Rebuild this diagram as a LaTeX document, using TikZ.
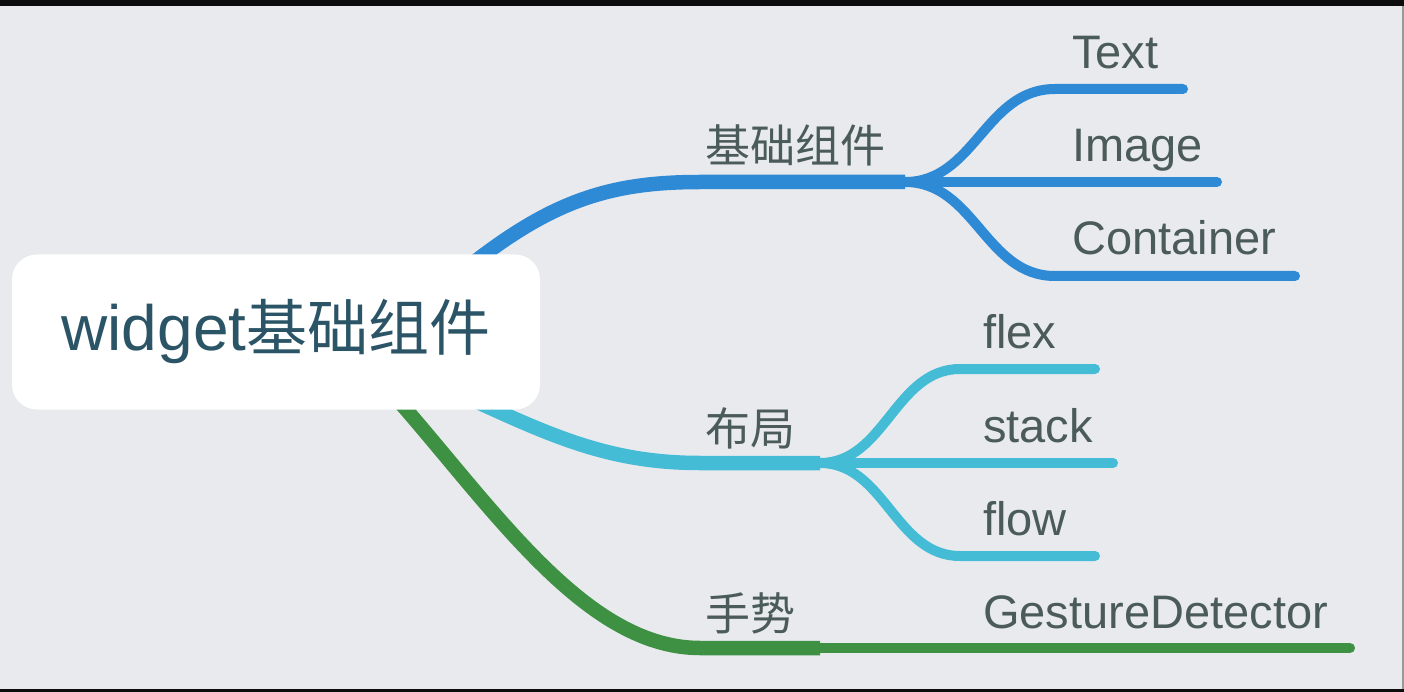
\documentclass[tikz,border=0pt]{standalone}
\usepackage{fontspec}
\setmainfont{Liberation Sans}
\newfontfamily\cjk{Noto Sans CJK SC}
\pgfdeclarelayer{back}
\pgfdeclarelayer{bg}
\pgfsetlayers{back,bg,main}
\definecolor{bgc}{HTML}{E8EAEE}
\definecolor{blueb}{HTML}{2F8AD6}
\definecolor{cyanb}{HTML}{45BCD5}
\definecolor{greenb}{HTML}{3E9142}
\definecolor{txt}{HTML}{4B5A5A}
\definecolor{roottxt}{HTML}{2B5566}
\tikzset{
  rootbox/.style={fill=white, rounded corners=25pt, minimum width=528pt, minimum height=155pt, inner sep=0pt, text=roottxt},
  mainline/.style={line width=14.5pt},
  subline/.style={line width=10pt, line cap=round},
  leaflabel/.style={anchor=base west, inner sep=0pt, text=txt, font=\fontsize{47}{50}\selectfont},
  cnlabel/.style={inner sep=0pt, text=txt, font=\cjk\fontsize{45}{50}\selectfont},
}
\begin{document}
\begin{tikzpicture}[x=1pt,y=-1pt]
\useasboundingbox (0,0) rectangle (1404,692);
\begin{pgfonlayer}{back}
\fill[bgc] (0,0) rectangle (1404,692);
\fill[black!95] (0,0) rectangle (1404,6);
\fill[black!95] (0,689) rectangle (1404,692);
\fill[black!40] (1402,6) rectangle (1404,689);
\end{pgfonlayer}

\node[rootbox] (root) at (276,332) {\fontsize{64}{66}\selectfont widget{\cjk\fontsize{61}{66}\selectfont 基础组件}};

% coordinates
\coordinate (bs) at (440,290);
\coordinate (bj) at (905,182);
\coordinate (cs) at (440,385);
\coordinate (cj) at (820,463);
\coordinate (gs) at (380,380);
\coordinate (gj) at (820,648);
\coordinate (tEnd) at (1183,89);
\coordinate (iEnd) at (1217,182);
\coordinate (coEnd) at (1295,276);
\coordinate (flEnd) at (1095,369);
\coordinate (stEnd) at (1113,463);
\coordinate (fwEnd) at (1095,556);
\coordinate (gdEnd) at (1350,648);

\begin{pgfonlayer}{bg}
% blue
\draw[blueb, mainline] (bs) .. controls (540,205) and (600,182) .. (700,182) -- (bj);
\draw[blueb, subline] (bj) .. controls (975,182) and (985,89) .. (1055,89) -- (tEnd);
\draw[blueb, subline] (bj) -- (iEnd);
\draw[blueb, subline] (bj) .. controls (975,182) and (985,276) .. (1055,276) -- (coEnd);
% cyan
\draw[cyanb, mainline] (cs) .. controls (540,430) and (600,463) .. (700,463) -- (cj);
\draw[cyanb, subline] (cj) .. controls (885,463) and (895,369) .. (960,369) -- (flEnd);
\draw[cyanb, subline] (cj) -- (stEnd);
\draw[cyanb, subline] (cj) .. controls (885,463) and (895,556) .. (960,556) -- (fwEnd);
% green
\draw[greenb, mainline] (gs) .. controls (485,495) and (580,648) .. (700,648) -- (gj);
\draw[greenb, subline] (gj) -- (gdEnd);
\end{pgfonlayer}

% labels
\node[cnlabel] (l1) at (795,145) {基础组件};
\node[cnlabel] (l2) at (750,428) {布局};
\node[cnlabel] (l3) at (750,613) {手势};
\node[leaflabel] (t1) at (1072,69) {Text};
\node[leaflabel] (t2) at (1072,162) {Image};
\node[leaflabel] (t3) at (1072,255) {Container};
\node[leaflabel] (t4) at (983,348) {flex};
\node[leaflabel] (t5) at (983,442) {stack};
\node[leaflabel] (t6) at (983,535) {flow};
\node[leaflabel] (t7) at (983,628) {GestureDetector};
\end{tikzpicture}
\end{document}
